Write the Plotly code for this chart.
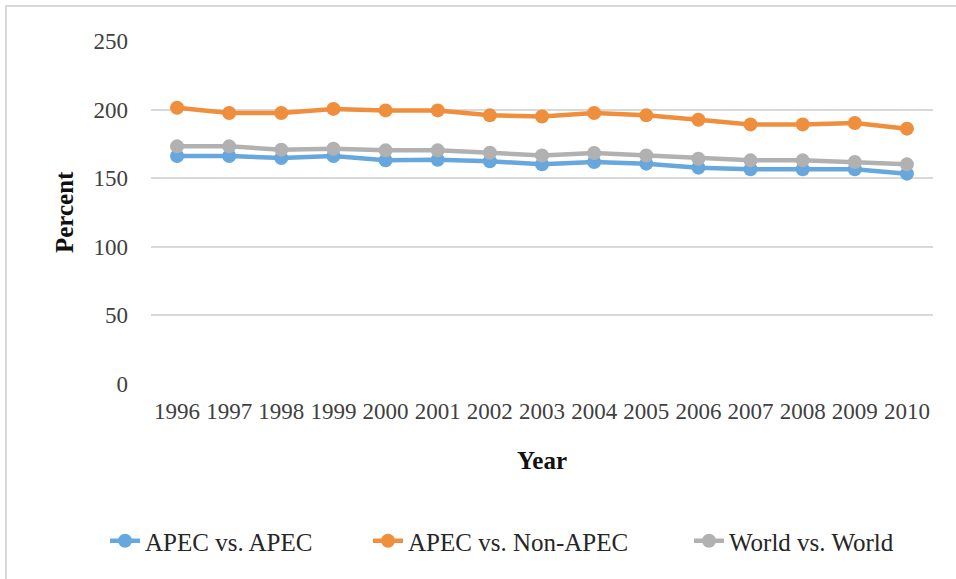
import plotly.graph_objects as go

# Years on the category axis
years = ["1996", "1997", "1998", "1999", "2000", "2001", "2002", "2003",
         "2004", "2005", "2006", "2007", "2008", "2009", "2010"]

# Percent values per series
apec_vs_apec = [166.2, 166.2, 164.7, 166.2, 163.0, 163.5, 162.3, 160.1,
                161.8, 160.6, 157.7, 156.5, 156.5, 156.5, 153.3]
apec_vs_non_apec = [201.4, 197.5, 197.5, 200.5, 199.4, 199.4, 195.8, 195.0,
                    197.5, 195.8, 192.6, 189.2, 189.2, 190.2, 186.1]
world_vs_world = [173.2, 173.2, 170.8, 171.5, 170.3, 170.3, 168.6, 166.5,
                  168.4, 166.5, 164.2, 163.0, 163.0, 161.8, 160.1]

y_ticks = [0, 50, 100, 150, 200, 250]

series = [
    ("APEC vs. APEC", apec_vs_apec, "#66A8DD", 218),
    ("APEC vs. Non-APEC", apec_vs_non_apec, "#EF8E3C", 276),
    ("World vs. World", world_vs_world, "#B1B1B1", 170),
]

SERIF = "Liberation Serif, DejaVu Serif"

fig = go.Figure()
for name, vals, color, lw in series:
    fig.add_trace(go.Scatter(
        x=years, y=vals, name=name, mode="lines+markers",
        line=dict(color=color, width=4.5),
        marker=dict(color=color, size=14),
        legendwidth=lw,
    ))

W, H = 956, 579
L, R, T, B = 151, 23, 41, 195
pw, ph = W - L - R, H - T - B

def px_x(x):
    return (x - L) / pw

def px_y(y):
    return (H - B - y) / ph

fig.update_layout(
    width=W, height=H,
    margin=dict(l=L, r=R, t=T, b=B, autoexpand=False),
    paper_bgcolor="white", plot_bgcolor="white",
    font=dict(family=SERIF, color="#404040"),
    showlegend=True,
    legend=dict(
        orientation="h", x=px_x(105), xanchor="left",
        y=px_y(541), yanchor="middle",
        font=dict(family=SERIF, size=25, color="#262626"),
        bgcolor="rgba(0,0,0,0)",
    ),
    xaxis=dict(
        type="category", range=[-0.5, len(years) - 0.5],
        showgrid=False, zeroline=False, showline=False,
        tickfont=dict(family=SERIF, size=23, color="#404040"),
        ticklabelstandoff=11,
    ),
    yaxis=dict(
        range=[0, 250], tickvals=y_ticks, showgrid=True,
        gridcolor="#D9D9D9", gridwidth=1.5, zeroline=False, showline=False,
        tickfont=dict(family=SERIF, size=23, color="#404040"),
        ticklabelstandoff=22,
    ),
    annotations=[
        dict(text="<b>Year</b>", xref="paper", yref="paper",
             x=px_x(542), y=px_y(460), xanchor="center", yanchor="middle",
             showarrow=False, font=dict(family=SERIF, size=25, color="#111111")),
        dict(text="<b>Percent</b>", xref="paper", yref="paper",
             x=px_x(65), y=px_y(212), xanchor="center", yanchor="middle",
             textangle=-90, showarrow=False,
             font=dict(family=SERIF, size=25, color="#111111")),
    ],
    shapes=[
        dict(type="rect", xref="paper", yref="paper",
             x0=px_x(6), x1=px_x(990), y0=px_y(6), y1=px_y(620),
             line=dict(color="#D9D9D9", width=2), fillcolor="rgba(0,0,0,0)",
             layer="below"),
    ],
)

fig.write_html("out.html")
